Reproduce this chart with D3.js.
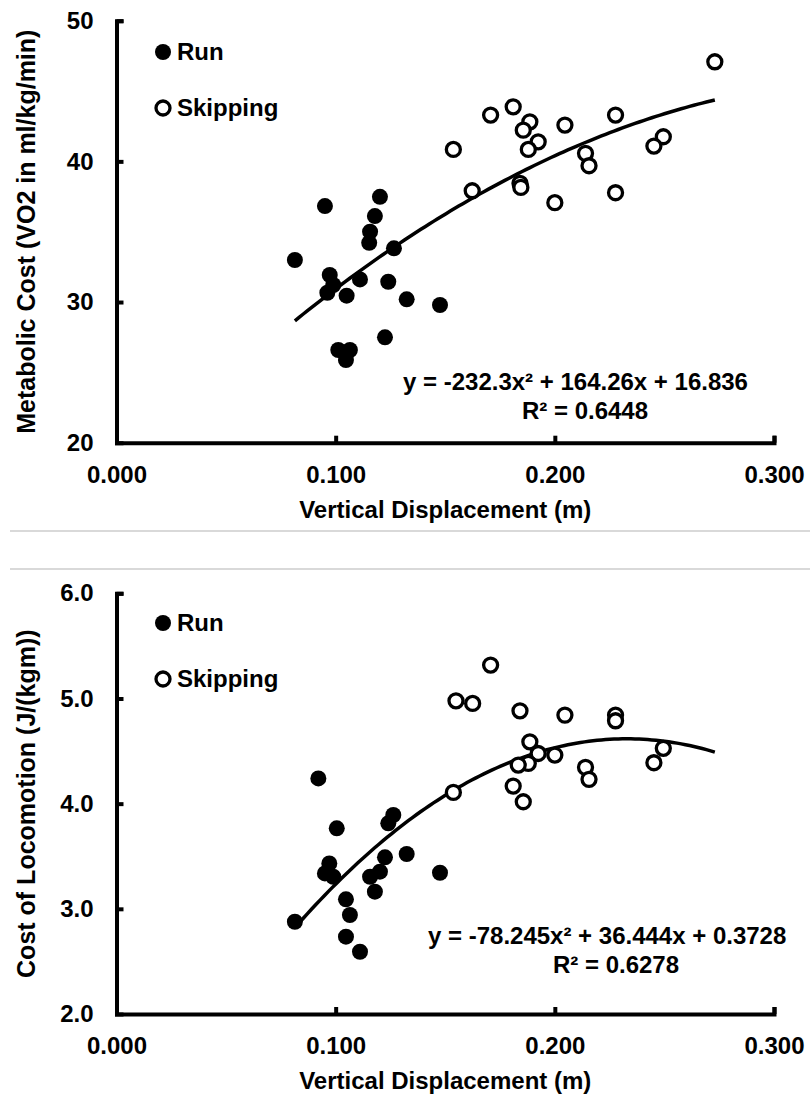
<!DOCTYPE html>
<html>
<head>
<meta charset="utf-8">
<script src="https://cdn.jsdelivr.net/npm/d3@7"></script>
<style>
  html, body { margin: 0; padding: 0; background: #fff; }
  svg { display: block; }
  text { font-family: "Liberation Sans", Arial, sans-serif; font-weight: bold; fill: #000; }
</style>
</head>
<body>
<svg id="chart" width="810" height="1096"></svg>
<script>
// ---------------- DATA ----------------
const xTicks = [0, 0.1, 0.2, 0.3];
const topYTicks = [20, 30, 40, 50];
const bottomYTicks = [2, 3, 4, 5, 6];
const legendLabels = ["Run", "Skipping"];

// Top panel: Metabolic cost
const topRunX = [0.0814, 0.0951, 0.1202, 0.1179, 0.1157, 0.1153, 0.1266, 0.0973, 0.0989, 0.0962, 0.1111, 0.1050, 0.1240, 0.1324, 0.1476, 0.1225, 0.1012, 0.1065, 0.1047];
const topRunY = [32.99, 36.82, 37.48, 36.11, 35.00, 34.21, 33.82, 31.92, 31.21, 30.66, 31.61, 30.45, 31.44, 30.19, 29.79, 27.49, 26.59, 26.59, 25.88];
const topSkipX = [0.2730, 0.1707, 0.1810, 0.1886, 0.1856, 0.1924, 0.1879, 0.1537, 0.2046, 0.2277, 0.2495, 0.2452, 0.2140, 0.2156, 0.1623, 0.1841, 0.1845, 0.2000, 0.2277];
const topSkipY = [47.08, 43.29, 43.88, 42.81, 42.22, 41.39, 40.85, 40.85, 42.58, 43.29, 41.75, 41.09, 40.57, 39.69, 37.91, 38.44, 38.15, 37.06, 37.77];
const topFit = [-232.3, 164.26, 16.836];   // a, b, c
const topEq = ["y = -232.3x² + 164.26x + 16.836", "R² = 0.6448"];

// Bottom panel: Cost of locomotion
const botRunX = [0.0921, 0.1005, 0.1263, 0.1240, 0.0971, 0.0951, 0.0989, 0.1225, 0.1202, 0.1157, 0.1179, 0.1324, 0.1476, 0.0814, 0.1047, 0.1065, 0.1047, 0.1111];
const botRunY = [4.240, 3.765, 3.892, 3.813, 3.432, 3.337, 3.305, 3.490, 3.353, 3.305, 3.163, 3.521, 3.343, 2.877, 3.090, 2.941, 2.735, 2.592];
const botSkipX = [0.1707, 0.1549, 0.1625, 0.1841, 0.2046, 0.2277, 0.2277, 0.1886, 0.1924, 0.2000, 0.1879, 0.1833, 0.2495, 0.2452, 0.2140, 0.2156, 0.1810, 0.1856, 0.1537];
const botSkipY = [5.318, 4.978, 4.953, 4.883, 4.842, 4.842, 4.788, 4.588, 4.477, 4.462, 4.383, 4.367, 4.526, 4.389, 4.345, 4.231, 4.167, 4.018, 4.107];
const botFit = [-78.245, 36.444, 0.3728];
const botEq = ["y = -78.245x² + 36.444x + 0.3728", "R² = 0.6278"];

const fitRange = [0.0814, 0.2730];

// ---------------- DRAW ----------------
const svg = d3.select("#chart");
svg.append("rect").attr("width", 810).attr("height", 1096).attr("fill", "#fff");

// separator lines (chart frames)
svg.append("line").attr("x1", 10).attr("x2", 810).attr("y1", 531).attr("y2", 531)
  .attr("stroke", "#d9d9d9").attr("stroke-width", 2);
svg.append("line").attr("x1", 10).attr("x2", 810).attr("y1", 569).attr("y2", 569)
  .attr("stroke", "#d9d9d9").attr("stroke-width", 2);

function panel(opts) {
  const g = svg.append("g");
  const x = d3.scaleLinear().domain([0, 0.3]).range([116.5, 774]);
  const y = d3.scaleLinear().domain(opts.yDomain).range(opts.yRange);

  const fs = 24;
  // y axis
  const ya = g.append("g").attr("transform", `translate(${x(0)},0)`)
    .call(d3.axisLeft(y).tickValues(opts.yTicks).tickFormat(opts.yFmt)
      .tickSizeInner(-7).tickSizeOuter(-7).tickPadding(23));
  // x axis
  const xa = g.append("g").attr("transform", `translate(0,${y(opts.yDomain[0])})`)
    .call(d3.axisBottom(x).tickValues(xTicks).tickFormat(d3.format(".3f"))
      .tickSizeInner(-7).tickSizeOuter(-7).tickPadding(23));
  [ya, xa].forEach(a => {
    a.attr("font-size", null).attr("font-family", null);
    a.selectAll("path, line").attr("stroke", "#000").attr("stroke-width", 4);
    a.selectAll("text").attr("font-size", fs).attr("fill", "#000");
  });
  ya.selectAll(".tick").filter(d => d === opts.yDomain[0]).select("line").remove();

  // axis titles
  g.append("text").attr("x", (x(0) + x(0.3)) / 2).attr("y", y(opts.yDomain[0]) + 75)
    .attr("text-anchor", "middle").attr("font-size", fs).text("Vertical Displacement (m)");
  const cy = (opts.yRange[0] + opts.yRange[1]) / 2;
  g.append("text").attr("transform", `translate(35,${cy}) rotate(-90)`)
    .attr("text-anchor", "middle").attr("font-size", 25).text(opts.yTitle);

  // trendline
  const [a, b, c] = opts.fit;
  const xs = d3.range(0, 101).map(i => fitRange[0] + (fitRange[1] - fitRange[0]) * i / 100);
  g.append("path").datum(xs)
    .attr("fill", "none").attr("stroke", "#000").attr("stroke-width", 3.5)
    .attr("d", d3.line().x(d => x(d)).y(d => y(a * d * d + b * d + c)));

  // points
  g.selectAll(".run").data(opts.runX.map((v, i) => [v, opts.runY[i]])).join("circle")
    .attr("cx", d => x(d[0])).attr("cy", d => y(d[1])).attr("r", 8).attr("fill", "#000");
  g.selectAll(".skip").data(opts.skipX.map((v, i) => [v, opts.skipY[i]])).join("circle")
    .attr("cx", d => x(d[0])).attr("cy", d => y(d[1])).attr("r", 7)
    .attr("fill", "#fff").attr("stroke", "#000").attr("stroke-width", 3.3);

  // legend
  const ly = opts.legendY;
  g.append("circle").attr("cx", 163).attr("cy", ly).attr("r", 8).attr("fill", "#000");
  g.append("text").attr("x", 177).attr("y", ly).attr("dy", "0.35em").attr("font-size", fs).text(legendLabels[0]);
  g.append("circle").attr("cx", 163).attr("cy", ly + 56).attr("r", 7)
    .attr("fill", "#fff").attr("stroke", "#000").attr("stroke-width", 3.3);
  g.append("text").attr("x", 177).attr("y", ly + 56).attr("dy", "0.35em").attr("font-size", fs).text(legendLabels[1]);

  // equation
  g.append("text").attr("x", opts.eqX).attr("y", opts.eqY).attr("font-size", fs).text(opts.eq[0]);
  g.append("text").attr("x", opts.r2X).attr("y", opts.eqY + 29).attr("text-anchor", "middle")
    .attr("font-size", fs).text(opts.eq[1]);
}

panel({
  yDomain: [20, 50], yRange: [442.7, 20.7], yTicks: topYTicks, yFmt: d3.format("d"),
  yTitle: "Metabolic Cost (VO2 in ml/kg/min)",
  runX: topRunX, runY: topRunY, skipX: topSkipX, skipY: topSkipY,
  fit: topFit, eq: topEq, eqX: 403, eqY: 390, r2X: 585, legendY: 52
});
panel({
  yDomain: [2, 6], yRange: [1014, 593.3], yTicks: bottomYTicks, yFmt: d3.format(".1f"),
  yTitle: "Cost of Locomotion (J/(kgm))",
  runX: botRunX, runY: botRunY, skipX: botSkipX, skipY: botSkipY,
  fit: botFit, eq: botEq, eqX: 428, eqY: 944, r2X: 616, legendY: 623
});
</script>
</body>
</html>
